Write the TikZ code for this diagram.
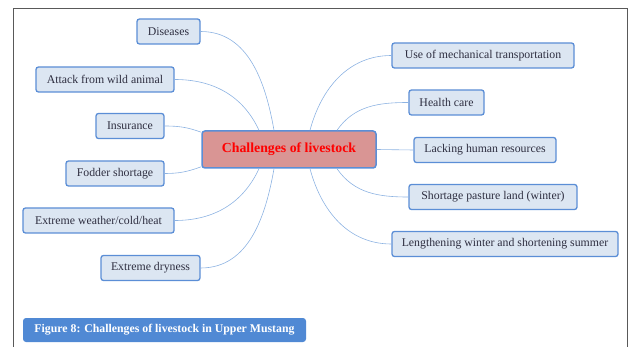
\documentclass[tikz,border=0pt]{standalone}
\usepackage{fontspec}
\setmainfont{Liberation Serif}
\definecolor{boxfill}{HTML}{DCE6F2}
\definecolor{boxedge}{HTML}{5B8ED6}
\definecolor{linkc}{HTML}{8DB3E2}
\definecolor{centfill}{HTML}{D99594}
\definecolor{capfill}{HTML}{5089D4}
\definecolor{txt}{HTML}{2E2E40}
\begin{document}
\begin{tikzpicture}[x=1pt,y=1pt,
  item/.style={draw=boxedge, line width=1.3pt, fill=boxfill, rounded corners=2.5pt,
    minimum height=25pt, inner sep=0pt, text=txt, font=\fontsize{11.8}{13}\selectfont},
  central/.style={draw=boxedge, line width=1.5pt, fill=centfill, rounded corners=3pt,
    minimum width=174pt, minimum height=37pt, inner sep=0pt, text=red,
    font=\fontsize{13.8}{15}\selectfont\bfseries},
  caption/.style={fill=capfill, rounded corners=3pt, minimum width=283pt, minimum height=24pt,
    inner sep=0pt, text=white, font=\fontsize{11.8}{13}\selectfont\bfseries},
  link/.style={draw=linkc, line width=0.6pt},
  frameline/.style={draw=black!65, line width=1.2pt}]
\useasboundingbox (0,0) rectangle (629,-347);
\draw[frameline] (13.3,-347) -- (13.3,-8.3) -- (627.7,-8.3) -- (627.7,-347);

\node[central] (c) at (289,-149.5) {Challenges of livestock};

\node[item, minimum width=63pt] (dis) at (168.5,-31.5) {Diseases};
\node[item, minimum width=138pt] (att) at (105,-79.5) {Attack from wild animal};
\node[item, minimum width=68pt] (ins) at (130,-126) {Insurance};
\node[item, minimum width=98pt] (fod) at (115,-173.5) {Fodder shortage};
\node[item, minimum width=151pt] (ext) at (98.5,-220.5) {Extreme weather/cold/heat};
\node[item, minimum width=99pt] (dry) at (150.5,-268) {Extreme dryness};

\node[item, minimum width=182pt] (mec) at (483,-55.5) {Use of mechanical transportation};
\node[item, minimum width=75pt] (hea) at (446.5,-102.5) {Health care};
\node[item, minimum width=142pt] (lac) at (485,-150) {Lacking human resources};
\node[item, minimum width=168pt] (sho) at (493,-197) {Shortage pasture land (winter)};
\node[item, minimum width=226pt] (len) at (505,-244) {Lengthening winter and shortening summer};

\node[caption] (cap) at (164.5,-330) {Figure 8: Challenges of livestock in Upper Mustang};

\draw[link] (dis.east) to[out=0,in=100] ([xshift=-15pt]c.north);
\draw[link] (att.east) to[out=0,in=115] ([xshift=-30pt]c.north);
\draw[link] (ins.east) to[out=0,in=160] ([yshift=-2pt]c.north west);
\draw[link] (fod.east) to[out=0,in=200] ([yshift=2pt]c.south west);
\draw[link] (ext.east) to[out=0,in=-115] ([xshift=-30pt]c.south);
\draw[link] (dry.east) to[out=0,in=-100] ([xshift=-15pt]c.south);
\draw[link] (mec.west) to[out=180,in=75] ([xshift=21pt]c.north);
\draw[link] (hea.west) to[out=180,in=55] ([xshift=48pt]c.north);
\draw[link] (lac.west) -- (c.east);
\draw[link] (sho.west) to[out=180,in=-55] ([xshift=48pt]c.south);
\draw[link] (len.west) to[out=180,in=-75] ([xshift=21pt]c.south);
\end{tikzpicture}
\end{document}
